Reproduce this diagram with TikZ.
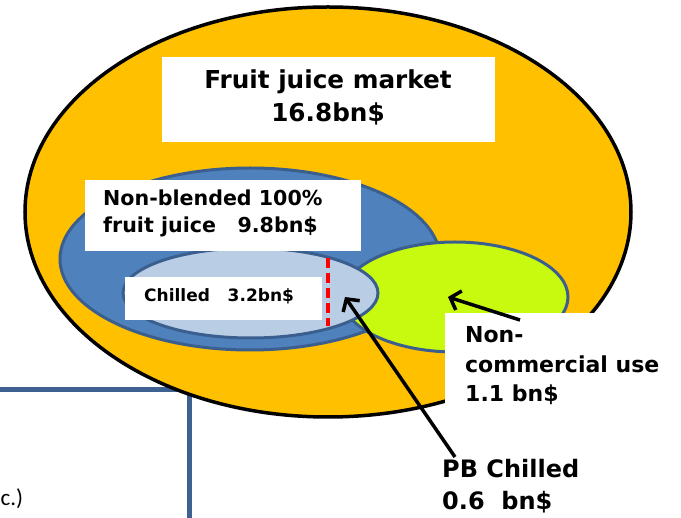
\documentclass[tikz,border=0pt]{standalone}
\usepackage{fontspec}
\setmainfont{DejaVu Sans}
\newfontfamily\notefont{Carlito}
\usetikzlibrary{arrows.meta}
\definecolor{marketfill}{HTML}{FFC000}
\definecolor{blendblue}{HTML}{4F81BD}
\definecolor{rimblue}{HTML}{3A5F8E}
\definecolor{chillblue}{HTML}{B9CDE5}
\definecolor{usegreen}{HTML}{C8FA10}
\definecolor{frameblue}{HTML}{3E6192}
\def\tagsize#1{\fontsize{#1}{1.35\dimexpr#1pt\relax}\selectfont\bfseries}

\begin{document}
\begin{tikzpicture}[x=1pt,y=-1pt,
    market/.style={draw=black,line width=3.5pt,fill=marketfill},
    segment/.style={draw=rimblue,line width=3pt},
    tag/.style={inner sep=0pt,anchor=base west,align=left},
    pointer/.style={line width=3.5pt,-{Straight Barb[length=9pt,width=20pt,line width=3.5pt]}}]
  \useasboundingbox (0,0) rectangle (681,518);

  % slide frame behind the chart
  \draw[frameblue,line width=5pt] (0,390) -- (189,390) -- (189,530);
  \node[tag,font=\notefont\fontsize{23}{26}\selectfont] (etc) at (0.5,506) {c.)};

  % market and its segments
  \filldraw[market] (328,212) ellipse [x radius=303, y radius=205];
  \filldraw[segment,fill=blendblue] (250,259) ellipse [x radius=190, y radius=91];
  \filldraw[segment,fill=usegreen] (455,297) ellipse [x radius=113, y radius=55];
  \filldraw[segment,fill=chillblue] (250.5,293) ellipse [x radius=127.5, y radius=45];
  \draw[red,line width=4pt,dash pattern=on 10pt off 5pt] (328,258) -- (328,326);

  % label boxes
  \fill[white] (162,57) rectangle (495,142);
  \fill[white] (85,180) rectangle (361,251);
  \fill[white] (125,277) rectangle (322,320);
  \fill[white] (445,313) rectangle (670,403);

  \node[tag,align=center,anchor=base,font=\tagsize{24.7}] (market) at (328,122) {Fruit juice market\\16.8bn\$};
  \node[tag,font=\tagsize{20.6}] (blended) at (103,233) {Non-blended 100\%\\fruit juice~~~9.8bn\$};
  \node[tag,font=\tagsize{17}] (chilled) at (144,302) {Chilled~~~3.2bn\$};
  \node[tag,font=\tagsize{22}] (noncomm) at (465,402) {Non-\\commercial use\\1.1 bn\$};
  \node[tag,font=\tagsize{24}] (pbchilled) at (442,510) {PB Chilled\\0.6~~bn\$};

  % pointers
  \coordinate (usetail) at (520,320);
  \coordinate (usetip) at (448,297);
  \coordinate (pbtail) at (455,457);
  \coordinate (pbtip) at (345,297);
  \draw[pointer] (usetail) -- (usetip);
  \draw[pointer] (pbtail) -- (pbtip);
\end{tikzpicture}
\end{document}
